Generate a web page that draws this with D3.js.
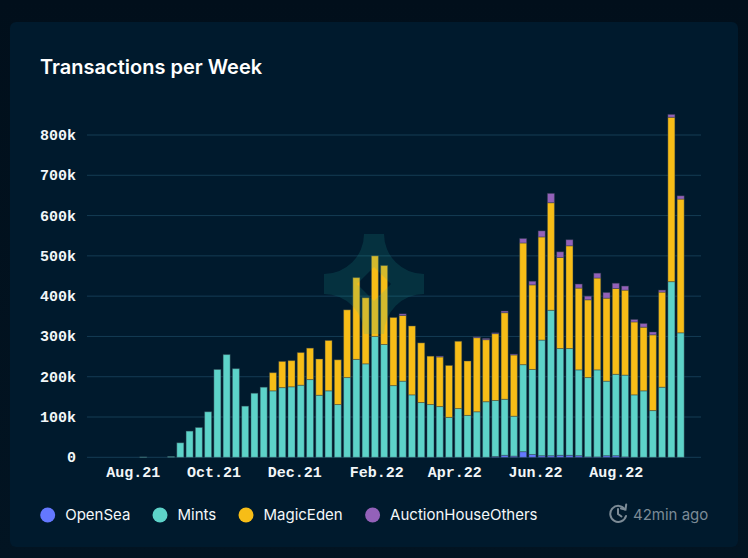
<!DOCTYPE html>
<html>
<head>
<meta charset="utf-8">
<script src="https://cdn.jsdelivr.net/npm/d3@7/dist/d3.min.js"></script>
<style>
html,body{margin:0;padding:0;background:#010f1b;}
svg{display:block;}
</style>
</head>
<body>
<svg id="chart" width="748" height="558"></svg>
<script>
const chartTitle = "Transactions per Week";
const seriesNames = ["OpenSea","Mints","MagicEden","AuctionHouseOthers"];
const seriesColors = ["#6478ff","#5dd3c9","#f7bd17","#9361b9"];
const weeks = ["2021-08-02","2021-08-09","2021-08-16","2021-08-23","2021-08-30","2021-09-06","2021-09-13","2021-09-20","2021-09-27","2021-10-04","2021-10-11","2021-10-18","2021-10-25","2021-11-01","2021-11-08","2021-11-15","2021-11-22","2021-11-29","2021-12-06","2021-12-13","2021-12-20","2021-12-27","2022-01-03","2022-01-10","2022-01-17","2022-01-24","2022-01-31","2022-02-07","2022-02-14","2022-02-21","2022-02-28","2022-03-07","2022-03-14","2022-03-21","2022-03-28","2022-04-04","2022-04-11","2022-04-18","2022-04-25","2022-05-02","2022-05-09","2022-05-16","2022-05-23","2022-05-30","2022-06-06","2022-06-13","2022-06-20","2022-06-27","2022-07-04","2022-07-11","2022-07-18","2022-07-25","2022-08-01","2022-08-08","2022-08-15","2022-08-22","2022-08-29","2022-09-05","2022-09-12","2022-09-19"];
const openSea = [0,0,0,0,0,0,0,0,0,0,0,0,0,0,0,0,0,0,0,0,0,0,0,0,0,0,0,0,0,0,0,0,0,0,0,0,0,0,0,2,5,3,14,7,4,4,5,5,4,1,1,4,4,1,0,0,0,0,0,0];
const mints = [0,1,0,0,2,36,65,74,113,218,255,220,127,159,174,165,173,175,179,193,154,165,131,198,243,232,300,280,178,189,155,136,131,126,99,121,104,113,138,139,139,99,216,211,287,361,265,265,213,197,216,185,202,203,155,165,116,174,436,309];
const magicEden = [0,0,0,0,0,0,0,0,0,0,0,0,0,0,0,45,65,65,81,78,90,125,111,168,203,164,200,196,169,163,171,148,120,123,129,167,135,184,154,166,215,152,302,210,256,267,226,255,203,193,228,206,213,211,181,158,188,236,408,332];
const auctionOthers = [0,0,0,0,0,0,0,0,0,0,0,0,0,0,0,0,0,0,0,0,0,0,0,0,0,0,0,0,0,4,0,0,0,2,0,0,0,2,3,2,4,2,11,9,15,23,14,15,10,9,12,14,13,10,6,9,7,5,7,8];
const yTicks = [0,100000,200000,300000,400000,500000,600000,700000,800000];
const xTickDates = ["2021-08-01","2021-10-01","2021-12-01","2022-02-01","2022-04-01","2022-06-01","2022-08-01"];
const xTickLabels = ["Aug.21","Oct.21","Dec.21","Feb.22","Apr.22","Jun.22","Aug.22"];
const xDomain = ["2021-06-27T12:00:00Z","2022-10-04T09:00:00Z"];
const updatedText = "42min ago";

const W = 748, H = 558;
const plot = {left:87, right:701, top:135, bottom:457.3};
const parse = d3.utcParse("%Y-%m-%d");
const svg = d3.select("#chart");
const sans = "Inter, 'Noto Sans', sans-serif";
const mono = "'Liberation Mono', monospace";

// page and card
const defs = svg.append("defs");
const grad = defs.append("linearGradient").attr("id","pg").attr("x1",0).attr("x2",0).attr("y1",0).attr("y2",1);
grad.append("stop").attr("offset",0).attr("stop-color","#010f1b");
grad.append("stop").attr("offset",1).attr("stop-color","#021422");
svg.append("rect").attr("width",W).attr("height",H).attr("fill","url(#pg)");
svg.append("rect").attr("x",10).attr("y",22).attr("width",728).attr("height",525).attr("rx",6).attr("fill","#001a2d");

svg.append("text").attr("x",40).attr("y",74)
  .attr("font-family",sans).attr("font-weight",600).attr("font-size",20)
  .attr("fill","#ffffff").text(chartTitle);

const x = d3.scaleUtc().domain(xDomain.map(d=>new Date(d))).range([plot.left,plot.right]);
const y = d3.scaleLinear().domain([0,800000]).range([plot.bottom,plot.top]);

// axes
const yAxis = svg.append("g").attr("transform",`translate(${plot.left},0)`)
  .call(d3.axisLeft(y).tickValues(yTicks).tickSize(0).tickPadding(11)
    .tickFormat(v => v ? (v/1000)+"k" : "0"));
yAxis.select(".domain").remove();
yAxis.selectAll("text").attr("font-family",mono).attr("font-weight",700).attr("font-size",15).attr("fill","#f2f6f8").attr("dy","0.3em");

svg.append("g").selectAll("line").data(yTicks).join("line")
  .attr("x1",plot.left).attr("x2",plot.right)
  .attr("y1",d=>y(d)).attr("y2",d=>y(d))
  .attr("stroke","#143c54").attr("stroke-width",1);

const xAxis = svg.append("g").attr("transform",`translate(0,${plot.bottom})`)
  .call(d3.axisBottom(x).tickValues(xTickDates.map(parse)).tickSize(0).tickPadding(9)
    .tickFormat((d,i)=>xTickLabels[i]));
xAxis.select(".domain").remove();
xAxis.selectAll("text").attr("font-family",mono).attr("font-weight",700).attr("font-size",15).attr("fill","#f2f6f8");

// stacked bars
const rows = weeks.map((w,i)=>({date:parse(w),OpenSea:openSea[i]*1000,Mints:mints[i]*1000,MagicEden:magicEden[i]*1000,AuctionHouseOthers:auctionOthers[i]*1000}));
const stack = d3.stack().keys(seriesNames)(rows);
const barW = 7;
svg.append("g").selectAll("g").data(stack).join("g")
  .attr("fill",(d,i)=>seriesColors[i])
  .selectAll("rect").data(d=>d.filter(s=>s[1]>s[0])).join("rect")
  .attr("x",d=>x(d.data.date)-barW/2)
  .attr("width",barW)
  .attr("y",d=>y(d[1]))
  .attr("height",d=>Math.max(0.5,y(d[0])-y(d[1])))
  .attr("stroke","#33414c").attr("stroke-opacity",0.42).attr("stroke-width",1);

// watermark
const cx = 374, cy = 284, a = 50, s = 10, r = a - s;
const star = `M${cx-s},${cy-a}L${cx+s},${cy-a}A${r},${r} 0 0 0 ${cx+a},${cy-s}L${cx+a},${cy+s}A${r},${r} 0 0 0 ${cx+s},${cy+a}L${cx-s},${cy+a}A${r},${r} 0 0 0 ${cx-a},${cy+s}L${cx-a},${cy-s}A${r},${r} 0 0 0 ${cx-s},${cy-a}Z`;
const d0 = 17;
const hole = `M${cx},${cy-d0}L${cx+d0},${cy}L${cx},${cy+d0}L${cx-d0},${cy}Z`;
svg.append("path").attr("d",star+hole).attr("fill-rule","evenodd").attr("fill","#22b0a0").attr("fill-opacity",0.16);

// legend
const legendCx = [47.7,160,246,372.6], legendY = 515;
const legend = svg.append("g").selectAll("g").data(seriesNames).join("g");
legend.append("circle").attr("cx",(d,i)=>legendCx[i]).attr("cy",legendY).attr("r",7.5).attr("fill",(d,i)=>seriesColors[i]);
legend.append("text").attr("x",(d,i)=>legendCx[i]+17.5).attr("y",legendY+5)
  .attr("font-family",sans).attr("font-size",15).attr("fill","#f4f7f9").text(d=>d);

// updated stamp
const stamp = svg.append("g").attr("fill","none").attr("stroke","#7c8b96").attr("stroke-width",2).attr("stroke-linecap","round");
stamp.append("path").attr("d","M625,509.5A8,8 0 1 0 626,516");
stamp.append("path").attr("d","M621,508.5L625.5,509.5L626.2,504.5");
stamp.append("path").attr("d","M618,509V514L621.5,516.5");
svg.append("text").attr("x",633).attr("y",520).attr("font-family",sans).attr("font-size",15).attr("fill","#7c8b96").text(updatedText);
</script>
</body>
</html>
